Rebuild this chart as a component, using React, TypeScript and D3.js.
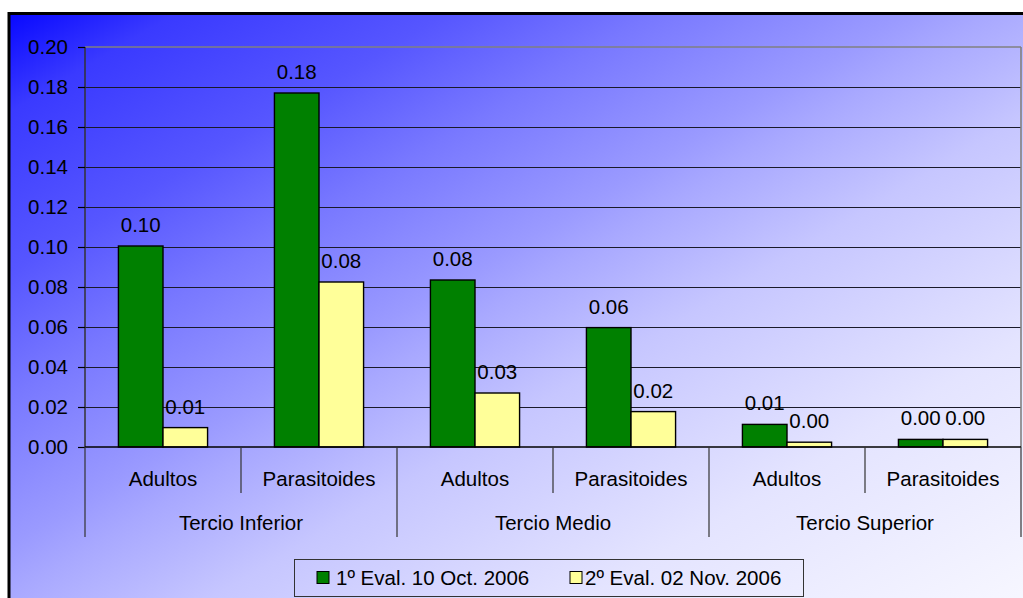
import React from "react";
import * as d3 from "d3";

const groups = ["Tercio Inferior", "Tercio Medio", "Tercio Superior"];
const subcats = ["Adultos", "Parasitoides"];
const seriesNames = ["1º Eval. 10 Oct. 2006", "2º Eval. 02 Nov. 2006"];
const seriesColors = ["#008000", "#ffff99"];
const eval1 = [0.1005, 0.177, 0.0835, 0.0597, 0.0113, 0.0038];
const eval2 = [0.0097, 0.0825, 0.027, 0.0177, 0.0024, 0.0038];
const yTicks = [0, 0.02, 0.04, 0.06, 0.08, 0.1, 0.12, 0.14, 0.16, 0.18, 0.2];

const W = 1023;
const H = 598;
const FONT = "'Liberation Sans', Arial, sans-serif";
const FS = 20.5;

export default function App() {
  const left = 85, right = 1021, top = 47, bottom = 447;
  const cats = groups.flatMap((g) => subcats.map((s) => g + "|" + s));
  const x0 = d3.scaleBand().domain(cats).range([left, right]).paddingInner(0).paddingOuter(0);
  const x1 = d3.scaleBand().domain(["0", "1"]).range([0, x0.bandwidth()]).paddingInner(0).paddingOuter(0.75);
  const y = d3.scaleLinear().domain([0, 0.2]).range([bottom, top]);
  const fmt = d3.format(".2f");
  const gx = d3.scaleBand().domain(groups).range([left, right]);
  const series = [eval1, eval2];

  const stops: [number, number][] = [
    [0, 8], [0.08, 58], [0.21, 86], [0.31, 120], [0.43, 154], [0.47, 168], [0.57, 198], [0.75, 228], [1, 250],
  ];

  return (
    <div style={{ position: "fixed", left: 0, top: 0, width: W, height: H, background: "#fff" }}>
      <svg width={W} height={H} style={{ display: "block", fontFamily: FONT }}>
        <defs>
          <linearGradient id="bg" x1="0" y1="0" x2="1" y2="1">
            {stops.map(([o, w], i) => (
              <stop key={i} offset={o} stopColor={`rgb(${w},${w},255)`} />
            ))}
          </linearGradient>
        </defs>
        <rect x={0} y={0} width={W} height={H} fill="#fff" />
        <rect x={9} y={13.5} width={W + 20} height={H + 20} fill="url(#bg)" stroke="#000" strokeWidth={3} />
        {yTicks.slice(1, -1).map((t) => (
          <line key={t} x1={left} x2={right} y1={Math.round(y(t)) + 0.5} y2={Math.round(y(t)) + 0.5} stroke="#1a1a2a" strokeWidth={1} />
        ))}
        <line x1={left} x2={right} y1={y(0.2)} y2={y(0.2)} stroke="#808080" strokeWidth={1.6} />
        <line x1={right} x2={right} y1={top} y2={bottom} stroke="#808080" strokeWidth={1.6} />
        {series.map((vals, si) =>
          vals.map((v, i) => {
            const bx = (x0(cats[i]) as number) + (x1(String(si)) as number);
            return (
              <rect key={si + "-" + i} x={bx} y={y(v)} width={x1.bandwidth()} height={bottom - y(v)}
                fill={seriesColors[si]} stroke="#000" strokeWidth={1.4} />
            );
          })
        )}
        {series.map((vals, si) =>
          vals.map((v, i) => {
            const bx = (x0(cats[i]) as number) + (x1(String(si)) as number) + x1.bandwidth() / 2;
            return (
              <text key={"l" + si + "-" + i} x={bx} y={y(v) - 14} textAnchor="middle" fontSize={FS} fill="#000">
                {fmt(v)}
              </text>
            );
          })
        )}
        <line x1={left} x2={left} y1={top} y2={bottom} stroke="#333" strokeWidth={1.5} />
        {yTicks.map((t) => (
          <g key={"t" + t}>
            <line x1={78} x2={left} y1={Math.round(y(t)) + 0.5} y2={Math.round(y(t)) + 0.5} stroke="#000" strokeWidth={1.2} />
            <text x={68} y={y(t) + 7} textAnchor="end" fontSize={FS} fill="#000">{fmt(t)}</text>
          </g>
        ))}
        <line x1={left} x2={right} y1={bottom} y2={bottom} stroke="#000" strokeWidth={1.5} />
        {cats.map((c, i) => {
          const cx = (x0(c) as number) + x0.bandwidth() / 2;
          return (
            <g key={"c" + c}>
              <text x={cx} y={486} textAnchor="middle" fontSize={FS} fill="#000">{subcats[i % 2]}</text>
              {i % 2 === 1 && (
                <line x1={(x0(c) as number)} x2={(x0(c) as number)} y1={bottom} y2={493} stroke="#333" strokeWidth={1.2} />
              )}
            </g>
          );
        })}
        {groups.map((g) => (
          <g key={"g" + g}>
            <text x={(gx(g) as number) + gx.bandwidth() / 2} y={530} textAnchor="middle" fontSize={FS} fill="#000">{g}</text>
            <line x1={gx(g) as number} x2={gx(g) as number} y1={bottom} y2={537} stroke="#333" strokeWidth={1.2} />
          </g>
        ))}
        <line x1={right} x2={right} y1={bottom} y2={537} stroke="#333" strokeWidth={1.2} />
        <rect x={294.5} y={559.5} width={509} height={37} fill="none" stroke="#333" strokeWidth={1} />
        {seriesNames.map((n, i) => {
          const lx = i === 0 ? 317 : 570;
          return (
            <g key={"lg" + i}>
              <rect x={lx} y={571.5} width={12} height={12} fill={seriesColors[i]} stroke="#000" strokeWidth={1} />
              <text x={lx + (i === 0 ? 19 : 15)} y={585} fontSize={FS} fill="#000">{n}</text>
            </g>
          );
        })}
      </svg>
    </div>
  );
}
